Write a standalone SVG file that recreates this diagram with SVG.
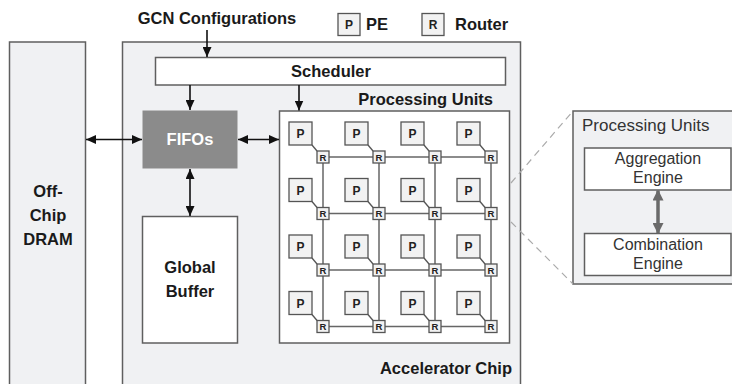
<svg xmlns="http://www.w3.org/2000/svg" width="732" height="384" viewBox="0 0 732 384">
<style>
.box{stroke:#5f5f5f;stroke-width:1.5}
.lt{fill:#f0f1f3}
.wh{fill:#ffffff}
.b{font-family:"Liberation Sans",Arial,sans-serif;font-weight:bold;font-size:16.5px;fill:#1a1a1a}
.n{font-family:"Liberation Sans",Arial,sans-serif;font-size:17px;fill:#333}
.n2{font-family:"Liberation Sans",Arial,sans-serif;font-size:16px;fill:#333}
.c{text-anchor:middle}
.arr{stroke:#111;stroke-width:1.6;fill:none}
.grid{stroke:#666;stroke-width:1.5}
.cb{fill:#f2f2f2;stroke:#555;stroke-width:1.3}
.pt{font-family:"Liberation Sans",Arial,sans-serif;font-weight:bold;font-size:12px;fill:#222;text-anchor:middle}
.rt{font-family:"Liberation Sans",Arial,sans-serif;font-weight:bold;font-size:9.5px;fill:#222;text-anchor:middle}
.dash{stroke:#aaa;stroke-width:1.2;stroke-dasharray:7 5;fill:none}
</style>
<defs>
<marker id="ah" markerWidth="10" markerHeight="9" refX="10" refY="4.5" orient="auto-start-reverse" markerUnits="userSpaceOnUse">
<path d="M0,0 L10,4.5 L0,9 Z" fill="#111"/>
</marker>
<marker id="ahg" markerWidth="11" markerHeight="11" refX="10" refY="5.5" orient="auto-start-reverse" markerUnits="userSpaceOnUse">
<path d="M0,0 L11,5.5 L0,11 Z" fill="#6a6a6a"/>
</marker>
<g id="cell">
<line x1="23" y1="23" x2="28" y2="29" stroke="#555" stroke-width="1.3"/>
<rect class="cb" x="0" y="0" width="23" height="23"/>
<text class="pt" x="11.5" y="16">P</text>
<rect class="cb" x="28" y="29" width="12" height="12"/>
<text class="rt" x="34" y="38.5">R</text>
</g>
</defs>
<rect width="732" height="384" fill="#ffffff"/>

<g id="dram">
<rect class="box lt" x="9.5" y="42" width="76" height="350"/>
<text class="b c" x="48" y="197">Off-</text>
<text class="b c" x="48" y="221">Chip</text>
<text class="b c" x="48" y="245">DRAM</text>
</g>

<g id="chip">
<rect class="box lt" x="122.5" y="42" width="398" height="350"/>
<text class="b" x="512" y="374" text-anchor="end">Accelerator Chip</text>
</g>

<g id="gcn">
<text class="b c" x="217" y="24">GCN Configurations</text>
</g>

<g id="legend">
<rect class="cb" x="338" y="13.5" width="22" height="22"/>
<text class="pt" x="349" y="29">P</text>
<text class="b" x="366" y="30">PE</text>
<rect class="cb" x="422" y="13.5" width="22" height="22"/>
<text class="pt" x="433" y="29">R</text>
<text class="b" x="455" y="30">Router</text>
</g>

<g id="scheduler">
<rect class="box wh" x="155.5" y="57.5" width="350" height="27.5"/>
<text class="b c" x="331" y="77">Scheduler</text>
</g>

<g id="fifos">
<rect x="142.5" y="110.5" width="95" height="58" fill="#8b8b8b"/>
<text class="b c" x="190" y="145" style="fill:#ffffff">FIFOs</text>
</g>

<g id="buffer">
<rect class="box wh" x="142.5" y="216.5" width="95" height="126.5"/>
<text class="b c" x="190" y="273">Global</text>
<text class="b c" x="190" y="297">Buffer</text>
</g>

<g id="pu">
<text class="b" x="493" y="105" text-anchor="end">Processing Units</text>
<rect class="box wh" x="279.5" y="111" width="230" height="232"/>
<g class="grid">
<line x1="323" y1="157" x2="491" y2="157"/>
<line x1="323" y1="213.5" x2="491" y2="213.5"/>
<line x1="323" y1="270" x2="491" y2="270"/>
<line x1="323" y1="326.5" x2="491" y2="326.5"/>
<line x1="323" y1="157" x2="323" y2="326.5"/>
<line x1="379" y1="157" x2="379" y2="326.5"/>
<line x1="435" y1="157" x2="435" y2="326.5"/>
<line x1="491" y1="157" x2="491" y2="326.5"/>
</g>
<use href="#cell" x="289" y="122"/><use href="#cell" x="345" y="122"/><use href="#cell" x="401" y="122"/><use href="#cell" x="457" y="122"/>
<use href="#cell" x="289" y="178.5"/><use href="#cell" x="345" y="178.5"/><use href="#cell" x="401" y="178.5"/><use href="#cell" x="457" y="178.5"/>
<use href="#cell" x="289" y="235"/><use href="#cell" x="345" y="235"/><use href="#cell" x="401" y="235"/><use href="#cell" x="457" y="235"/>
<use href="#cell" x="289" y="291.5"/><use href="#cell" x="345" y="291.5"/><use href="#cell" x="401" y="291.5"/><use href="#cell" x="457" y="291.5"/>
</g>

<g id="detail">
<rect class="box lt" x="573" y="111" width="170" height="173"/>
<text class="n" x="582" y="131">Processing Units</text>
<rect class="box wh" x="584.5" y="148" width="146.5" height="42"/>
<text class="n2 c" x="658" y="164">Aggregation</text>
<text class="n2 c" x="658" y="183">Engine</text>
<rect class="box wh" x="584.5" y="233.5" width="146.5" height="42"/>
<text class="n2 c" x="658" y="250">Combination</text>
<text class="n2 c" x="658" y="269">Engine</text>
</g>

<g id="connectors">
<line class="arr" x1="207" y1="30" x2="207" y2="57" marker-end="url(#ah)"/>
<line class="arr" x1="190" y1="85" x2="190" y2="110" marker-end="url(#ah)"/>
<line class="arr" x1="299" y1="85" x2="299" y2="110.5" marker-end="url(#ah)"/>
<line class="arr" x1="86" y1="139.5" x2="142" y2="139.5" marker-start="url(#ah)" marker-end="url(#ah)"/>
<line class="arr" x1="238" y1="139.5" x2="279" y2="139.5" marker-start="url(#ah)" marker-end="url(#ah)"/>
<line class="arr" x1="190" y1="169" x2="190" y2="216" marker-start="url(#ah)" marker-end="url(#ah)"/>
<line x1="658" y1="190.5" x2="658" y2="233" stroke="#6a6a6a" stroke-width="3.5" marker-start="url(#ahg)" marker-end="url(#ahg)"/>
<line class="dash" x1="511" y1="183" x2="573" y2="111"/>
<line class="dash" x1="511" y1="222" x2="573" y2="284"/>
</g>
</svg>
